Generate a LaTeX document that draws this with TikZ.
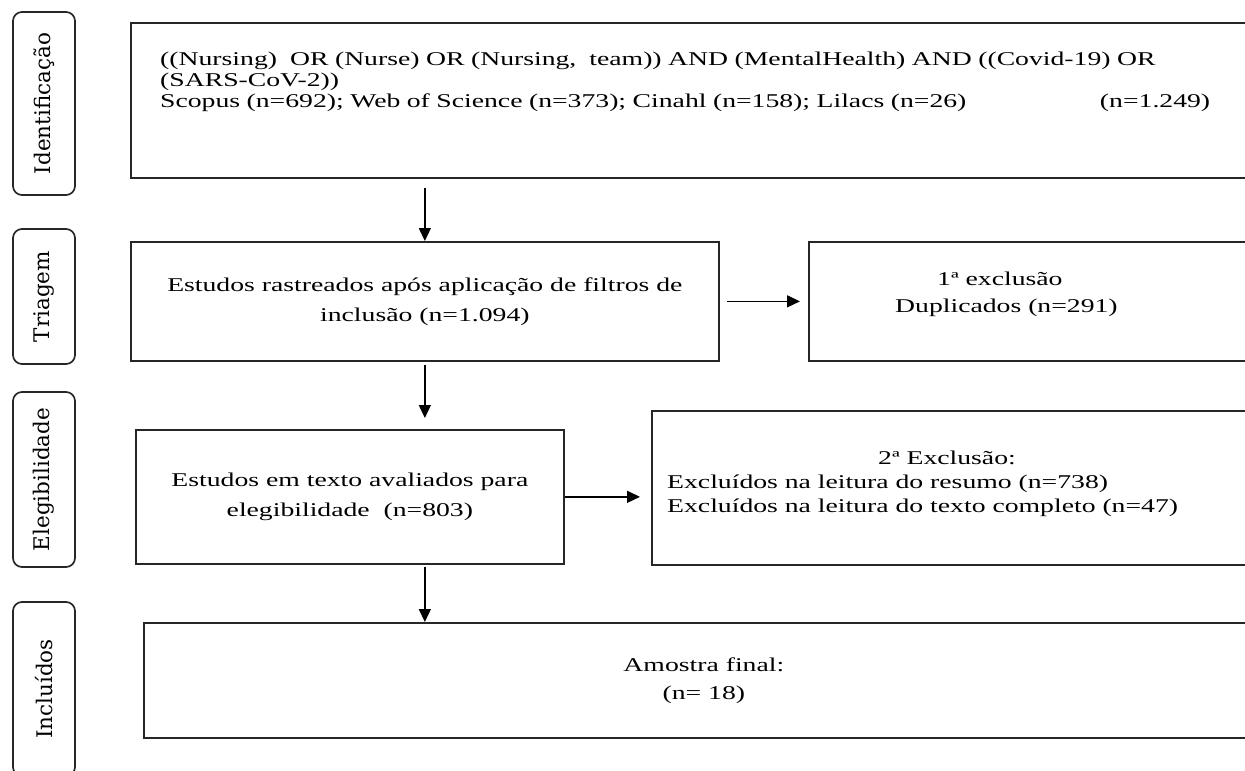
\documentclass[tikz,border=0pt]{standalone}
\usepackage{fontspec}
\setmainfont{Liberation Serif}[FakeStretch=1.42]
\newfontfamily\stagefont{DejaVu Serif}
\usetikzlibrary{arrows.meta}

\begin{document}
\begin{tikzpicture}[x=1pt, y=-1pt, >={Triangle[length=13pt,width=12pt]},
  box/.style={draw=black!85, line width=1.7pt, inner sep=0pt, anchor=north west, align=center, font=\fontsize{19.5}{30}\selectfont},
  stage/.style={draw=black!85, line width=1.7pt, rounded corners=9pt, inner sep=0pt, rotate=90, minimum height=62pt, font=\stagefont\fontsize{21.5}{24}\selectfont},
  txt/.style={inner sep=0pt, anchor=north west, align=left, font=\fontsize{19.5}{21}\selectfont},
  link/.style={->, line width=1.4pt}]
\useasboundingbox (0,0) rectangle (1245,771);
\clip (0,0) rectangle (1245,771);

\node[stage, minimum width=183pt] (sid) at (44,103.5) {Identificação};
\node[stage, minimum width=135pt] (stri) at (44,296.5) {Triagem};
\node[stage, minimum width=175pt] (sele) at (44,479.5) {Elegibilidade};
\node[stage, minimum width=174pt] (sinc) at (44,689) {Incluídos};

\node[box, minimum width=1135pt, minimum height=155pt] (busca) at (130,22) {};
\node[txt, text width=1050pt] (buscatxt) at (160,52) {((Nursing)\ \ OR (Nurse) OR (Nursing,\ \ team)) AND (MentalHealth) AND ((Covid-19) OR\\
(SARS-CoV-2))\\
Scopus (n=692); Web of Science (n=373); Cinahl (n=158); Lilacs (n=26)\hspace{0pt plus 1filll}(n=1.249)};

\node[box, minimum width=588pt, minimum height=119pt] (triados) at (130,241) {Estudos rastreados após aplicação de filtros de\\inclusão (n=1.094)};
\node[box, minimum width=460pt, minimum height=119pt] (excl1) at (808,241) {};
\node[txt, font=\fontsize{19.5}{27}\selectfont] (excl1txt) at (895,272) {\hspace*{42pt}1ª exclusão\\Duplicados (n=291)};

\node[box, minimum width=428pt, minimum height=134pt] (elegiveis) at (135,429) {Estudos em texto avaliados para\\elegibilidade\ \ (n=803)};
\node[box, minimum width=610pt, minimum height=154pt] (excl2) at (651,410) {};
\node[txt, font=\fontsize{19.5}{24}\selectfont] (excl2txt) at (667,451) {\hspace*{211pt}2ª Exclusão:\\Excluídos na leitura do resumo (n=738)\\Excluídos na leitura do texto completo (n=47)};

\node[box, minimum width=1120pt, minimum height=115pt, font=\fontsize{19.5}{28}\selectfont] (amostra) at (143,622) {Amostra final:\\(n= 18)};

\draw[link, shorten <=9pt] (triados.north |- busca.south) -- (triados.north);
\draw[link, shorten <=7pt, shorten >=8pt] (triados.east) -- (excl1.west);
\draw[link, shorten <=3pt, shorten >=11pt] (triados.south) -- (triados.south |- elegiveis.north);
\draw[link, shorten >=11pt] (elegiveis.east) -- (elegiveis.east -| excl2.west);
\draw[link, shorten <=2pt] (triados.south |- elegiveis.south) -- (triados.south |- amostra.north);
\end{tikzpicture}
\end{document}
